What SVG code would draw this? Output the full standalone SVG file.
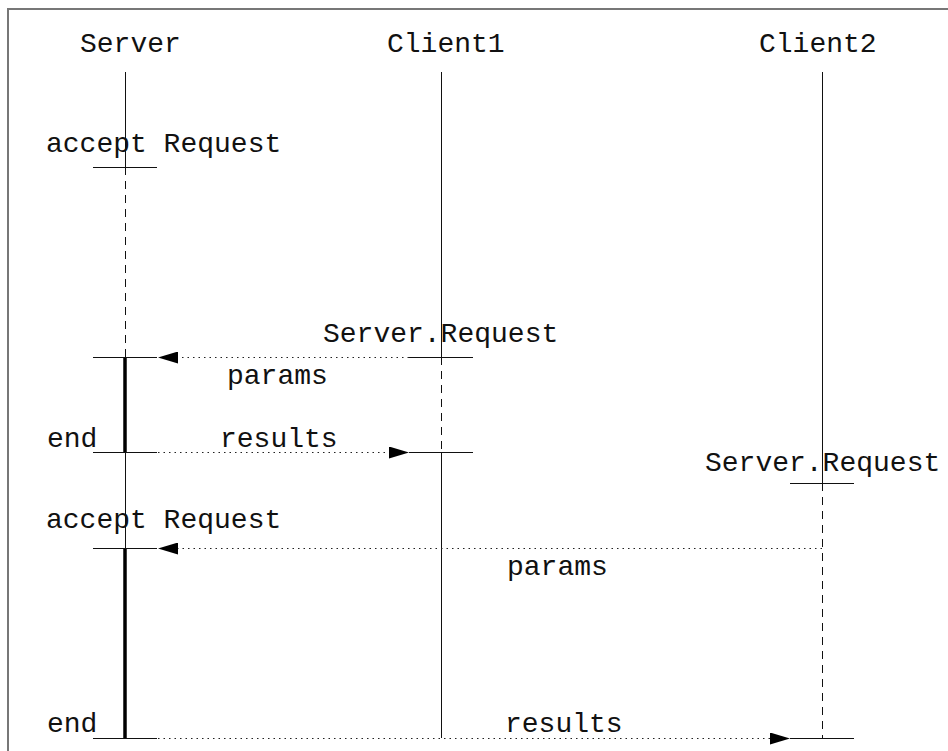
<svg xmlns="http://www.w3.org/2000/svg" width="948" height="751" viewBox="0 0 948 751">
  <style>
    text { font-family: "Liberation Mono", "Courier New", monospace; font-size: 28px; fill: #111; }
    .life { stroke: #111; stroke-width: 1; fill: none; shape-rendering: crispEdges; }
    .dash { stroke: #111; stroke-width: 1; stroke-dasharray: 8 6; fill: none; shape-rendering: crispEdges; }
    .act { stroke: #000; stroke-width: 3.5; fill: none; }
    .tick { stroke: #111; stroke-width: 1; shape-rendering: crispEdges; }
    .msg { stroke: #222; stroke-width: 1.2; stroke-dasharray: 1.5 4; fill: none; }
  </style>
  <defs>
    <marker id="head" viewBox="0 0 20 12" refX="20" refY="6" markerWidth="20" markerHeight="12" markerUnits="userSpaceOnUse" orient="auto">
      <path d="M0,0 L20,6 L0,12 Z" fill="#000"/>
    </marker>
  </defs>

  <!-- frame -->
  <path d="M8,760 L8,9 L960,9" fill="none" stroke="#777" stroke-width="2"/>

  <g id="server">
    <text x="80" y="52">Server</text>
    <line class="life" x1="125.5" y1="72" x2="125.5" y2="167"/>
    <line class="dash" x1="125.5" y1="167" x2="125.5" y2="357"/>
    <line class="act" x1="125" y1="357" x2="125" y2="452"/>
    <line class="life" x1="125.5" y1="452" x2="125.5" y2="548"/>
    <line class="act" x1="125" y1="548" x2="125" y2="738"/>
    <text x="46" y="152">accept Request</text>
    <line class="tick" x1="93" y1="167.5" x2="157" y2="167.5"/>
    <line class="tick" x1="93" y1="357.5" x2="157" y2="357.5"/>
    <text x="47" y="447">end</text>
    <line class="tick" x1="93" y1="452.5" x2="157" y2="452.5"/>
    <text x="46" y="528">accept Request</text>
    <line class="tick" x1="93" y1="548.5" x2="157" y2="548.5"/>
    <text x="47" y="732">end</text>
    <line class="tick" x1="93" y1="738.5" x2="157" y2="738.5"/>
  </g>

  <g id="client1">
    <text x="387" y="52">Client1</text>
    <line class="life" x1="441.5" y1="72" x2="441.5" y2="357"/>
    <line class="dash" x1="441.5" y1="357" x2="441.5" y2="452"/>
    <line class="life" x1="441.5" y1="452" x2="441.5" y2="738"/>
    <text x="323" y="342">Server.Request</text>
    <line class="tick" x1="409" y1="357.5" x2="473" y2="357.5"/>
    <line class="tick" x1="409" y1="452.5" x2="473" y2="452.5"/>
  </g>

  <g id="client2">
    <text x="759" y="52">Client2</text>
    <line class="life" x1="822.5" y1="72" x2="822.5" y2="483"/>
    <line class="dash" x1="822.5" y1="483" x2="822.5" y2="738"/>
    <text x="705" y="471">Server.Request</text>
    <line class="tick" x1="790" y1="483.5" x2="854" y2="483.5"/>
    <line class="tick" x1="790" y1="738.5" x2="854" y2="738.5"/>
  </g>

  <g id="connectors">
    <line class="msg" x1="409" y1="357.5" x2="158" y2="357.5" marker-end="url(#head)"/>
    <text x="227" y="384">params</text>
    <line class="msg" x1="158" y1="452.5" x2="409" y2="452.5" marker-end="url(#head)"/>
    <text x="220" y="447">results</text>
    <line class="msg" x1="822" y1="548.5" x2="158" y2="548.5" marker-end="url(#head)"/>
    <text x="507" y="575">params</text>
    <line class="msg" x1="158" y1="738.5" x2="790" y2="738.5" marker-end="url(#head)"/>
    <text x="505" y="732">results</text>
  </g>
</svg>
